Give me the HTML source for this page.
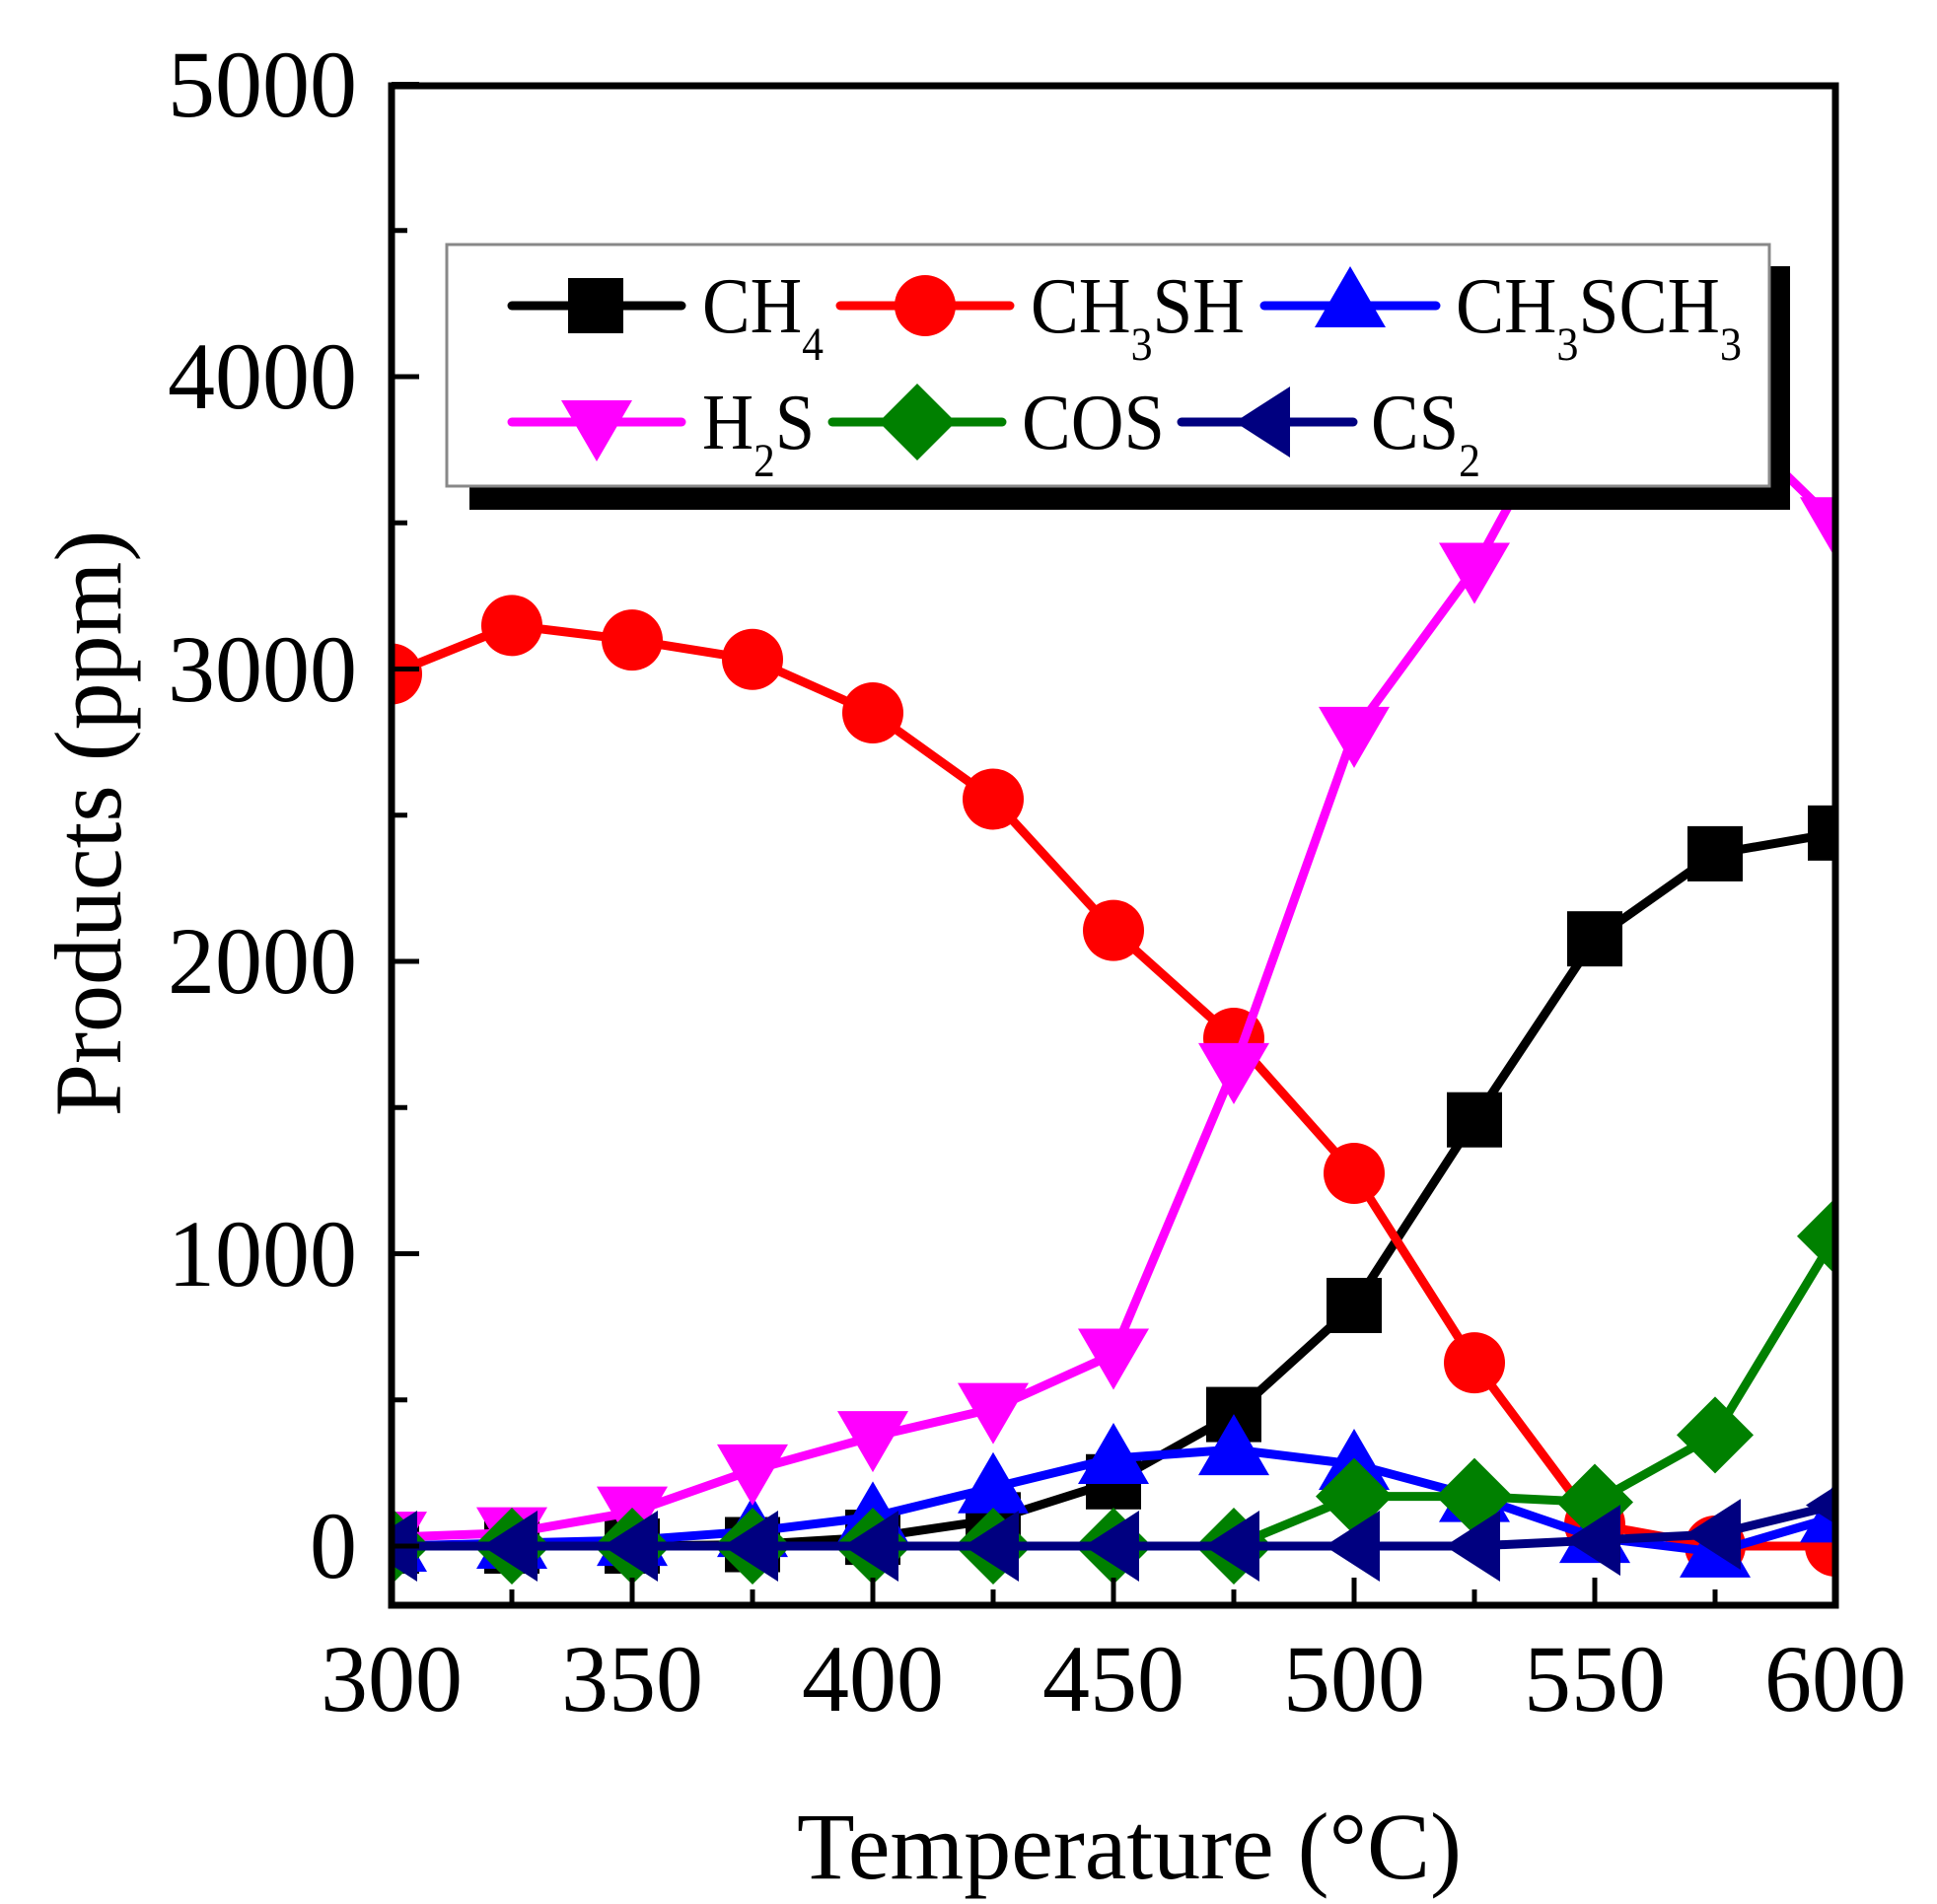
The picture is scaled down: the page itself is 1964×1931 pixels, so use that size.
<!DOCTYPE html>
<html><head><meta charset="utf-8"><style>
html,body{margin:0;padding:0;background:#fff;}
svg{display:block;}
text{font-family:"Liberation Serif",serif;fill:#000;}
</style></head><body>
<svg width="1964" height="1931" viewBox="0 0 1964 1931" xmlns="http://www.w3.org/2000/svg">
<defs>
<clipPath id="pc"><rect x="397" y="87" width="1464" height="1541"/></clipPath>
<g id="sq"><rect x="-28" y="-28" width="56" height="56"/></g>
<g id="ci"><circle r="31"/></g>
<g id="tu"><polygon points="0,-36 36,26 -36,26"/></g>
<g id="td"><polygon points="0,36 36,-26 -36,-26"/></g>
<g id="di"><polygon points="0,-39 39,0 0,39 -39,0"/></g>
<g id="tl"><polygon points="-30,0 26,-36 26,36"/></g>
</defs>
<rect width="1964" height="1931" fill="#fff"/>
<g clip-path="url(#pc)" id="plot"></g>
<rect x="397" y="87" width="1464" height="1541" fill="none" stroke="#000" stroke-width="7"/>
<g stroke="#000" stroke-width="5" id="ticks"></g>
<g font-size="96" text-anchor="end">
<text x="362" y="1600">0</text>
<text x="362" y="1304">1000</text>
<text x="362" y="1007">2000</text>
<text x="362" y="711">3000</text>
<text x="362" y="414">4000</text>
<text x="362" y="118">5000</text>
</g>
<g font-size="96" text-anchor="middle">
<text x="397" y="1735">300</text>
<text x="641" y="1735">350</text>
<text x="885" y="1735">400</text>
<text x="1129" y="1735">450</text>
<text x="1373" y="1735">500</text>
<text x="1617" y="1735">550</text>
<text x="1861" y="1735">600</text>
</g>
<text x="1145" y="1905" font-size="96" text-anchor="middle">Temperature (°C)</text>
<text transform="translate(122,835) rotate(-90)" font-size="96" text-anchor="middle">Products (ppm)</text>
<rect x="476" y="270" width="1339" height="247" fill="#000"/>
<rect x="453" y="248" width="1341" height="245" fill="#fff" stroke="#888" stroke-width="3"/>
<g stroke-width="9" stroke-linecap="round">
<line x1="519" y1="310" x2="691" y2="310" stroke="#000"/>
<line x1="852" y1="310" x2="1024" y2="310" stroke="#f00"/>
<line x1="1282" y1="310" x2="1456" y2="310" stroke="#00f"/>
<line x1="519" y1="428" x2="691" y2="428" stroke="#f0f"/>
<line x1="844" y1="428" x2="1016" y2="428" stroke="#008000"/>
<line x1="1198" y1="428" x2="1372" y2="428" stroke="#000080"/>
</g>
<use href="#sq" x="604" y="310" fill="#000"/>
<use href="#ci" x="938" y="310" fill="#f00"/>
<use href="#tu" x="1369" y="306" fill="#00f"/>
<use href="#td" x="605" y="432" fill="#f0f"/>
<use href="#di" x="930" y="428" fill="#008000"/>
<use href="#tl" x="1282" y="428" fill="#000080"/>
<g font-size="80">
<text x="712" y="337" textLength="123" lengthAdjust="spacingAndGlyphs">CH<tspan font-size="48" dy="28">4</tspan></text>
<text x="1045" y="337" textLength="217" lengthAdjust="spacingAndGlyphs">CH<tspan font-size="48" dy="28">3</tspan><tspan dy="-28">SH</tspan></text>
<text x="1476" y="337" textLength="290" lengthAdjust="spacingAndGlyphs">CH<tspan font-size="48" dy="28">3</tspan><tspan dy="-28">SCH</tspan><tspan font-size="48" dy="28">3</tspan></text>
<text x="712" y="455" textLength="114" lengthAdjust="spacingAndGlyphs">H<tspan font-size="48" dy="28">2</tspan><tspan dy="-28">S</tspan></text>
<text x="1036" y="455" textLength="145" lengthAdjust="spacingAndGlyphs">COS</text>
<text x="1390" y="455" textLength="111" lengthAdjust="spacingAndGlyphs">CS<tspan font-size="48" dy="28">2</tspan></text>
</g>
<script>
(function(){
var NS="http://www.w3.org/2000/svg";
function X(t){return 397+4.88*(t-300);}
function Y(v){return 1568-0.2965*v;}
var T=[300,325,350,375,400,425,450,475,500,525,550,575,600];
var S=[
 ["#000","sq",[0,0,0,5,30,90,220,450,823,1458,2077,2368,2439]],
 ["#f00","ci",[2983,3149,3099,3033,2850,2555,2106,1737,1275,627,75,0,0]],
 ["#00f","tu",[0,10,20,50,100,200,300,330,280,170,30,-20,100]],
 ["#f0f","td",[30,45,116,260,374,470,656,1633,2783,3344,4100,3900,3500]],
 ["#008000","di",[0,0,0,0,0,0,0,0,170,170,150,380,1060]],
 ["#000080","tl",[0,0,0,0,0,0,0,0,0,0,20,40,140]]
];
var g=document.getElementById("plot");
S.forEach(function(s){
 var pts=T.map(function(t,i){return X(t)+","+Y(s[2][i]);}).join(" ");
 var pl=document.createElementNS(NS,"polyline");
 pl.setAttribute("points",pts);pl.setAttribute("fill","none");
 pl.setAttribute("stroke",s[0]);pl.setAttribute("stroke-width","9");
 pl.setAttribute("stroke-linejoin","round");
 g.appendChild(pl);
 T.forEach(function(t,i){
  var u=document.createElementNS(NS,"use");
  u.setAttribute("href","#"+s[1]);
  u.setAttribute("x",X(t));u.setAttribute("y",Y(s[2][i]));
  u.setAttribute("fill",s[0]);g.appendChild(u);
 });
});
var tk=document.getElementById("ticks");
function L(x1,y1,x2,y2){var l=document.createElementNS(NS,"line");
 l.setAttribute("x1",x1);l.setAttribute("y1",y1);l.setAttribute("x2",x2);l.setAttribute("y2",y2);tk.appendChild(l);}
for(var t=300;t<=600;t+=25){var maj=(t%50==0);L(X(t),1628,X(t),1628-(maj?28:16));}
for(var v=0;v<=5000;v+=500){var maj=(v%1000==0);L(397,Y(v),397+(maj?28:16),Y(v));}
})();
</script>
</svg>
</body></html>
